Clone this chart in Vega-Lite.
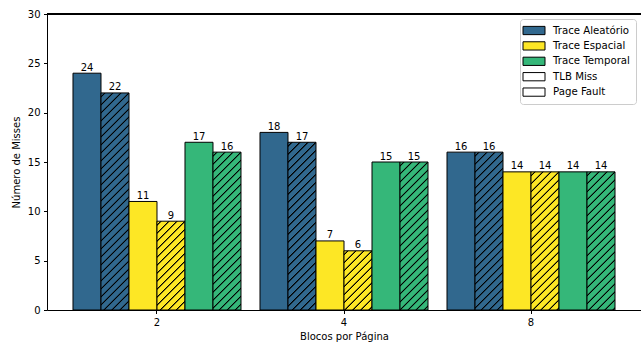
{
  "$schema": "https://vega.github.io/schema/vega-lite/v6.json",
  "width": 594,
  "height": 296,
  "autosize": "none",
  "padding": {"left": 47, "top": 14, "right": 0, "bottom": 34},
  "background": "white",
  "config": {
    "font": "DejaVu Sans",
    "view": {"stroke": null},
    "axis": {
      "domainColor": "black", "tickColor": "black", "labelColor": "black", "titleColor": "black",
      "labelFontSize": 10, "titleFontSize": 10, "titleFontWeight": "normal",
      "labelFont": "DejaVu Sans", "titleFont": "DejaVu Sans",
      "tickSize": 3.5, "labelPadding": 3.5, "grid": false, "domainWidth": 1, "tickWidth": 1
    }
  },
  "params": [
    {"name": "hatch", "value": [
      {"offset":0.0112,"color":"rgba(0,0,0,0)"},{"offset":0.0144,"color":"black"},{"offset":0.0176,"color":"black"},{"offset":0.0208,"color":"rgba(0,0,0,0)"},
      {"offset":0.0432,"color":"rgba(0,0,0,0)"},{"offset":0.0464,"color":"black"},{"offset":0.0496,"color":"black"},{"offset":0.0528,"color":"rgba(0,0,0,0)"},
      {"offset":0.0752,"color":"rgba(0,0,0,0)"},{"offset":0.0784,"color":"black"},{"offset":0.0816,"color":"black"},{"offset":0.0848,"color":"rgba(0,0,0,0)"},
      {"offset":0.1072,"color":"rgba(0,0,0,0)"},{"offset":0.1104,"color":"black"},{"offset":0.1136,"color":"black"},{"offset":0.1168,"color":"rgba(0,0,0,0)"},
      {"offset":0.1392,"color":"rgba(0,0,0,0)"},{"offset":0.1424,"color":"black"},{"offset":0.1456,"color":"black"},{"offset":0.1488,"color":"rgba(0,0,0,0)"},
      {"offset":0.1712,"color":"rgba(0,0,0,0)"},{"offset":0.1744,"color":"black"},{"offset":0.1776,"color":"black"},{"offset":0.1808,"color":"rgba(0,0,0,0)"},
      {"offset":0.2032,"color":"rgba(0,0,0,0)"},{"offset":0.2064,"color":"black"},{"offset":0.2096,"color":"black"},{"offset":0.2128,"color":"rgba(0,0,0,0)"},
      {"offset":0.2352,"color":"rgba(0,0,0,0)"},{"offset":0.2384,"color":"black"},{"offset":0.2416,"color":"black"},{"offset":0.2448,"color":"rgba(0,0,0,0)"},
      {"offset":0.2672,"color":"rgba(0,0,0,0)"},{"offset":0.2704,"color":"black"},{"offset":0.2736,"color":"black"},{"offset":0.2768,"color":"rgba(0,0,0,0)"},
      {"offset":0.2992,"color":"rgba(0,0,0,0)"},{"offset":0.3024,"color":"black"},{"offset":0.3056,"color":"black"},{"offset":0.3088,"color":"rgba(0,0,0,0)"},
      {"offset":0.3312,"color":"rgba(0,0,0,0)"},{"offset":0.3344,"color":"black"},{"offset":0.3376,"color":"black"},{"offset":0.3408,"color":"rgba(0,0,0,0)"},
      {"offset":0.3632,"color":"rgba(0,0,0,0)"},{"offset":0.3664,"color":"black"},{"offset":0.3696,"color":"black"},{"offset":0.3728,"color":"rgba(0,0,0,0)"},
      {"offset":0.3952,"color":"rgba(0,0,0,0)"},{"offset":0.3984,"color":"black"},{"offset":0.4016,"color":"black"},{"offset":0.4048,"color":"rgba(0,0,0,0)"},
      {"offset":0.4272,"color":"rgba(0,0,0,0)"},{"offset":0.4304,"color":"black"},{"offset":0.4336,"color":"black"},{"offset":0.4368,"color":"rgba(0,0,0,0)"},
      {"offset":0.4592,"color":"rgba(0,0,0,0)"},{"offset":0.4624,"color":"black"},{"offset":0.4656,"color":"black"},{"offset":0.4688,"color":"rgba(0,0,0,0)"},
      {"offset":0.4912,"color":"rgba(0,0,0,0)"},{"offset":0.4944,"color":"black"},{"offset":0.4976,"color":"black"},{"offset":0.5008,"color":"rgba(0,0,0,0)"},
      {"offset":0.5232,"color":"rgba(0,0,0,0)"},{"offset":0.5264,"color":"black"},{"offset":0.5296,"color":"black"},{"offset":0.5328,"color":"rgba(0,0,0,0)"},
      {"offset":0.5552,"color":"rgba(0,0,0,0)"},{"offset":0.5584,"color":"black"},{"offset":0.5616,"color":"black"},{"offset":0.5648,"color":"rgba(0,0,0,0)"},
      {"offset":0.5872,"color":"rgba(0,0,0,0)"},{"offset":0.5904,"color":"black"},{"offset":0.5936,"color":"black"},{"offset":0.5968,"color":"rgba(0,0,0,0)"},
      {"offset":0.6192,"color":"rgba(0,0,0,0)"},{"offset":0.6224,"color":"black"},{"offset":0.6256,"color":"black"},{"offset":0.6288,"color":"rgba(0,0,0,0)"},
      {"offset":0.6512,"color":"rgba(0,0,0,0)"},{"offset":0.6544,"color":"black"},{"offset":0.6576,"color":"black"},{"offset":0.6608,"color":"rgba(0,0,0,0)"},
      {"offset":0.6832,"color":"rgba(0,0,0,0)"},{"offset":0.6864,"color":"black"},{"offset":0.6896,"color":"black"},{"offset":0.6928,"color":"rgba(0,0,0,0)"},
      {"offset":0.7152,"color":"rgba(0,0,0,0)"},{"offset":0.7184,"color":"black"},{"offset":0.7216,"color":"black"},{"offset":0.7248,"color":"rgba(0,0,0,0)"},
      {"offset":0.7472,"color":"rgba(0,0,0,0)"},{"offset":0.7504,"color":"black"},{"offset":0.7536,"color":"black"},{"offset":0.7568,"color":"rgba(0,0,0,0)"},
      {"offset":0.7792,"color":"rgba(0,0,0,0)"},{"offset":0.7824,"color":"black"},{"offset":0.7856,"color":"black"},{"offset":0.7888,"color":"rgba(0,0,0,0)"},
      {"offset":0.8112,"color":"rgba(0,0,0,0)"},{"offset":0.8144,"color":"black"},{"offset":0.8176,"color":"black"},{"offset":0.8208,"color":"rgba(0,0,0,0)"},
      {"offset":0.8432,"color":"rgba(0,0,0,0)"},{"offset":0.8464,"color":"black"},{"offset":0.8496,"color":"black"},{"offset":0.8528,"color":"rgba(0,0,0,0)"},
      {"offset":0.8752,"color":"rgba(0,0,0,0)"},{"offset":0.8784,"color":"black"},{"offset":0.8816,"color":"black"},{"offset":0.8848,"color":"rgba(0,0,0,0)"},
      {"offset":0.9072,"color":"rgba(0,0,0,0)"},{"offset":0.9104,"color":"black"},{"offset":0.9136,"color":"black"},{"offset":0.9168,"color":"rgba(0,0,0,0)"},
      {"offset":0.9392,"color":"rgba(0,0,0,0)"},{"offset":0.9424,"color":"black"},{"offset":0.9456,"color":"black"},{"offset":0.9488,"color":"rgba(0,0,0,0)"},
      {"offset":0.9712,"color":"rgba(0,0,0,0)"},{"offset":0.9744,"color":"black"},{"offset":0.9776,"color":"black"},{"offset":0.9808,"color":"rgba(0,0,0,0)"}
    ]}
  ],
  "data": {"values": [
    {"blocos":"2","trace":"Trace Aleatório","tipo":"TLB Miss","serie":"Aleatório TLB","misses":24},
    {"blocos":"2","trace":"Trace Aleatório","tipo":"Page Fault","serie":"Aleatório PF","misses":22},
    {"blocos":"2","trace":"Trace Espacial","tipo":"TLB Miss","serie":"Espacial TLB","misses":11},
    {"blocos":"2","trace":"Trace Espacial","tipo":"Page Fault","serie":"Espacial PF","misses":9},
    {"blocos":"2","trace":"Trace Temporal","tipo":"TLB Miss","serie":"Temporal TLB","misses":17},
    {"blocos":"2","trace":"Trace Temporal","tipo":"Page Fault","serie":"Temporal PF","misses":16},
    {"blocos":"4","trace":"Trace Aleatório","tipo":"TLB Miss","serie":"Aleatório TLB","misses":18},
    {"blocos":"4","trace":"Trace Aleatório","tipo":"Page Fault","serie":"Aleatório PF","misses":17},
    {"blocos":"4","trace":"Trace Espacial","tipo":"TLB Miss","serie":"Espacial TLB","misses":7},
    {"blocos":"4","trace":"Trace Espacial","tipo":"Page Fault","serie":"Espacial PF","misses":6},
    {"blocos":"4","trace":"Trace Temporal","tipo":"TLB Miss","serie":"Temporal TLB","misses":15},
    {"blocos":"4","trace":"Trace Temporal","tipo":"Page Fault","serie":"Temporal PF","misses":15},
    {"blocos":"8","trace":"Trace Aleatório","tipo":"TLB Miss","serie":"Aleatório TLB","misses":16},
    {"blocos":"8","trace":"Trace Aleatório","tipo":"Page Fault","serie":"Aleatório PF","misses":16},
    {"blocos":"8","trace":"Trace Espacial","tipo":"TLB Miss","serie":"Espacial TLB","misses":14},
    {"blocos":"8","trace":"Trace Espacial","tipo":"Page Fault","serie":"Espacial PF","misses":14},
    {"blocos":"8","trace":"Trace Temporal","tipo":"TLB Miss","serie":"Temporal TLB","misses":14},
    {"blocos":"8","trace":"Trace Temporal","tipo":"Page Fault","serie":"Temporal PF","misses":14}
  ]},
  "encoding": {
    "y": {"field": "misses", "type": "quantitative",
      "scale": {"domain": [0, 30], "nice": false},
      "axis": {"values": [0, 5, 10, 15, 20, 25, 30], "title": "Número de Misses", "titlePadding": 6}}
  },
  "layer": [
    {
      "mark": {"type": "bar", "stroke": "black", "strokeWidth": 1},
      "encoding": {
        "x": {"field": "blocos", "type": "nominal", "sort": null,
          "scale": {"paddingInner": 0.1016, "paddingOuter": 0.139},
          "axis": {"labelAngle": 0, "title": "Blocos por Página", "titlePadding": 4}},
        "xOffset": {"field": "serie", "type": "nominal", "sort": null},
        "fill": {"field": "trace", "type": "nominal",
          "scale": {"domain": ["Trace Aleatório", "Trace Espacial", "Trace Temporal", "TLB Miss", "Page Fault"],
                    "range": ["#31688e", "#fde725", "#35b779", "white", "white"]},
          "legend": {
            "title": null, "orient": "top-right", "offset": 5,
            "strokeColor": "#cccccc", "fillColor": "white", "cornerRadius": 3, "padding": 5.5,
            "labelFontSize": 10.2, "labelFont": "DejaVu Sans", "labelColor": "black",
            "symbolType": "M-1.545,-0.75H2.455V0.75H-1.545Z", "symbolSize": 121,
            "symbolStrokeColor": "black", "symbolStrokeWidth": 1, "symbolOpacity": 1,
            "labelOffset": 15.5, "rowPadding": 1.4,
            "encode": {"symbols": {"update": {
              "stroke": {"value": "black"},
              "strokeWidth": {"value": 1},
              "opacity": {"value": 1}
            }}}
          }}
      }
    },
    {
      "transform": [{"filter": "datum.tipo === 'Page Fault'"}],
      "mark": {"type": "bar", "strokeWidth": 0},
      "encoding": {
        "x": {"field": "blocos", "type": "nominal", "sort": null},
        "xOffset": {"field": "serie", "type": "nominal", "sort": null},
        "fill": {"value": {"expr": "{gradient: 'linear', x1: 0, y1: 0, x2: 250 * bandwidth('xOffset') / (pow(bandwidth('xOffset'), 2) + pow(scale('y', 0) - scale('y', datum.misses), 2)), y2: 250 * (scale('y', 0) - scale('y', datum.misses)) / (pow(bandwidth('xOffset'), 2) + pow(scale('y', 0) - scale('y', datum.misses), 2)), stops: hatch}"}}
      }
    },
    {
      "mark": {"type": "text", "baseline": "alphabetic", "dy": -2.5, "fontSize": 10, "color": "black"},
      "encoding": {
        "x": {"field": "blocos", "type": "nominal", "sort": null},
        "xOffset": {"field": "serie", "type": "nominal", "sort": null},
        "text": {"field": "misses", "type": "quantitative"}
      }
    },
    {
      "mark": {"type": "rule", "color": "black", "strokeWidth": 1},
      "encoding": {"y": {"datum": 30}}
    }
  ]
}
